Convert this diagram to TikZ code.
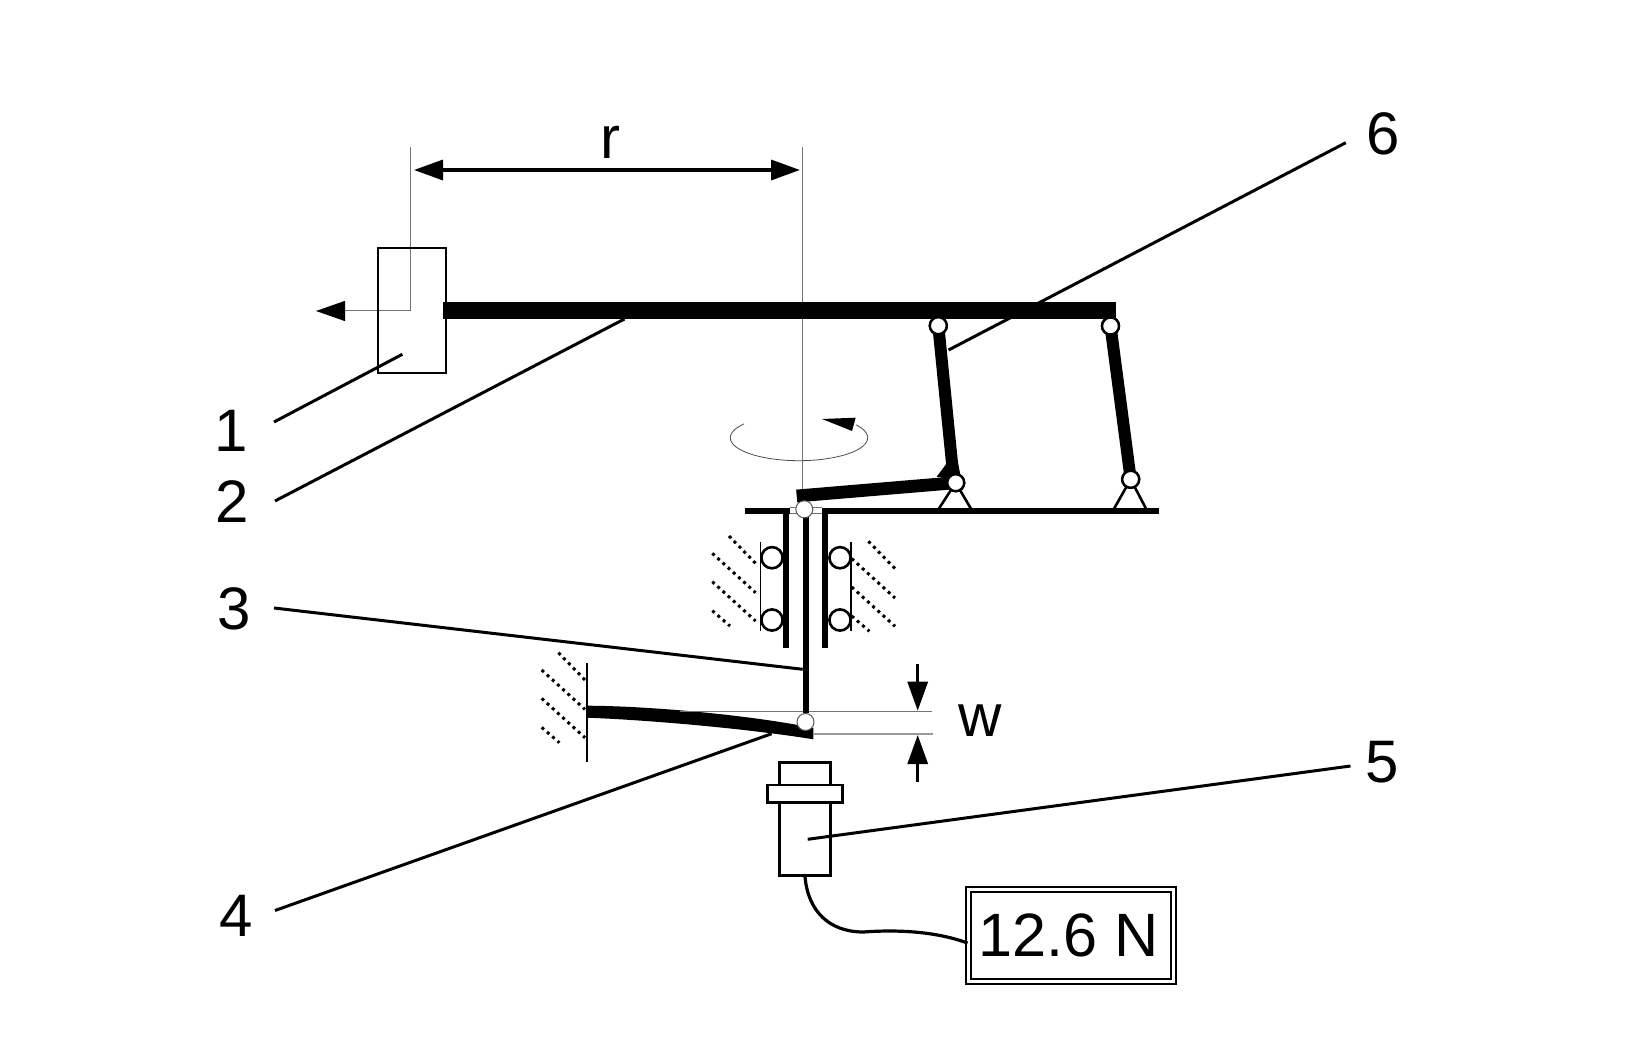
\documentclass[tikz,border=0pt]{standalone}
\usepackage{fontspec}
\setmainfont{Liberation Sans}
\usetikzlibrary{arrows.meta}

\begin{document}
\begin{tikzpicture}[
  x=0.5pt,
  y=-0.5pt,
  thinline/.style={draw=black!55, line width=0.5pt},
  outline/.style={draw, line width=1.3pt},
  leader/.style={draw, line width=1.5pt},
  linkbar/.style={draw, line width=6pt},
  hatchline/.style={draw, line width=1.5pt, dash pattern=on 1.5pt off 2pt},
  hinge/.style={
    draw,
    circle,
    fill=white,
    minimum size=8.5pt,
    inner sep=0pt,
    line width=1.2pt
  },
  pivot/.style={
    hinge,
    draw=black!65,
    line width=0.5pt
  },
  roller/.style={
    draw,
    circle,
    minimum size=10.6pt,
    inner sep=0pt,
    line width=1.3pt
  },
  part/.style={
    draw,
    rectangle,
    fill=white,
    inner sep=0pt,
    line width=1.3pt
  },
  callout/.style={font=\fontsize{30}{36}\selectfont, inner sep=0pt},
  bigtip/.style={-{Triangle[length=14.5pt,width=10pt,black]}}
]
\useasboundingbox (0,0) rectangle (1639,1063);

% axes and mass
\draw[thinline] (802.7,147) -- (802.7,492);
\coordinate (massaxis) at (410.8,147);
\coordinate (masstip) at (316,311);
\draw[thinline, bigtip] (massaxis) |- (masstip);
\node[part, fill=none, minimum width=34pt, minimum height=62.5pt] (mass) at (412,310.5) {};

% radius
\coordinate (radleft) at (414,170);
\coordinate (radright) at (800,170);
\draw[leader, line width=1.7pt, {Triangle[length=14.5pt,width=10pt]}-{Triangle[length=14.5pt,width=10pt]}] (radleft) -- (radright);
\node[callout, anchor=base] (radlabel) at (610,159) {r};

% arm and base plate
\fill (443,302) rectangle (1116,319);
\draw[line width=3pt] (745,510.7) -- (790,510.7);
\draw[line width=3pt] (822,510.7) -- (1159,510.7);
\draw[thinline] (790,507.7) -- (822,507.7);
\draw[thinline] (790,513.7) -- (822,513.7);

% hinges
\node[hinge] (hingeTL) at (938.3,325.7) {};
\node[hinge] (hingeTR) at (1110.5,326) {};
\node[hinge] (hingeBL) at (955.7,482.7) {};
\node[hinge] (hingeBR) at (1130.7,479.3) {};
\coordinate (knee) at (952,463);
\coordinate (armend) at (796.7,496);
\coordinate (footA) at (938,510);
\coordinate (footB) at (971.7,510);
\coordinate (footC) at (1113.3,510);
\coordinate (footD) at (1146.7,510);

\draw[linkbar] (hingeTL.center) -- (knee) -- (hingeBL.center);
\draw[linkbar] (hingeTR.center) -- (hingeBR.center);
\fill (936.7,476.7) -- (946.7,463.3) -- (955,480) -- cycle;
\draw[line width=6.4pt] (armend) -- (hingeBL.center);
\draw[outline] (footA) -- (hingeBL.center) -- (footB);
\draw[outline] (footC) -- (hingeBR.center) -- (footD);
\foreach \h in {TL,TR,BL,BR}{
  \node[hinge] at (hinge\h) {};
}

% bearing
\foreach \sx in {786.3,825.3}{
  \draw[line width=3pt] (\sx,510) -- (\sx,648.3);
}
\foreach \rx in {772,840}{
  \node[roller] (rollerA\rx) at (\rx,557.7) {};
  \node[roller] (rollerB\rx) at (\rx,620) {};
}
\draw[line width=0.8pt] (760.3,541.7) -- (760.3,630.7);
\draw[line width=0.9pt] (851.3,541.7) -- (851.3,630.7);

% hatching of the fixed supports
\foreach \ox/\oy in {541.7/652.7,712.3/536,851.7/541.3}{
  \foreach \ax/\ay/\bx/\by in {16.7/0/43.3/27.3,0/17.3/43.3/56.7,0/45.7/43.3/85,0/74.7/17.7/90}{
    \draw[hatchline] (\ox+\ax,\oy+\ay) -- (\ox+\bx,\oy+\by);
  }
}

% leaf spring
\draw[line width=0.9pt] (586.7,663.3) -- (586.7,762.3);
\fill (586.7,705.7) .. controls (650,706) and (750,715) .. (813.3,728)
  -- (813.3,739.3) .. controls (750,729) and (650,720) .. (586.7,717.7) -- cycle;

% deflection
\draw[thinline] (680,711.3) -- (931.7,711.3);
\draw[thinline, draw=black!40, line width=0.7pt] (813.3,734) -- (932.7,734);
\coordinate (defltop) at (917.7,664);
\coordinate (defltoptip) at (917.7,710.7);
\coordinate (deflbot) at (917.7,781.7);
\coordinate (deflbottip) at (917.7,735);
\draw[leader, bigtip] (defltop) -- (defltoptip);
\draw[leader, bigtip] (deflbot) -- (deflbottip);
\node[callout, anchor=base] (deflabel) at (980,736) {w};

% shaft
\node[pivot] (hingeW) at (805.5,722) {};
\coordinate (shafttop) at (805.5,515);
\draw[line width=3pt] (shafttop) -- (hingeW);
\node[pivot] (hingeC) at (804.3,509.3) {};

% sense of rotation
\draw[thinline, draw=black!70, line width=0.4pt] plot[domain=217:-34, samples=80, smooth] ({799+68.7*cos(\x)},{437.7+23*sin(\x)});
\fill (822,419) -- (855.7,417.7) -- (852,431) -- cycle;

% sensor
\node[part, minimum width=25.7pt, minimum height=11.3pt] (sensorhead) at (805,773.6) {};
\node[part, minimum width=37.3pt, minimum height=8.6pt] (sensorflange) at (805,793.6) {};
\node[part, minimum width=25.7pt, minimum height=36.5pt] (sensorbody) at (805,838.8) {};

% display
\node[callout, draw, line width=1pt, double, double distance=1.65pt, minimum width=102.5pt, minimum height=46pt, font=\fontsize{30.6}{36}\selectfont] (display) at (1071,935.5) {\hspace*{-2pt}12.6 N};
\draw[line width=1.6pt] (sensorbody.south) .. controls (808,912) and (830,932) .. (863.3,932)
  .. controls (905,929) and (940,933) .. ([yshift=-3.75pt]display.west);

% part numbers
\node[callout] (num1) at (231,431) {1};
\node[callout] (num2) at (232,502) {2};
\node[callout] (num3) at (234,609) {3};
\node[callout] (num4) at (236,916) {4};
\node[callout] (num5) at (1382,762) {5};
\node[callout] (num6) at (1383,134) {6};

\coordinate (lead1a) at (274,422);
\coordinate (lead1b) at (402.4,354.3);
\coordinate (lead2a) at (275,501);
\coordinate (lead2b) at (624.4,319);
\coordinate (lead3a) at (274,608);
\coordinate (lead3b) at (802.7,669.3);
\coordinate (lead4a) at (275,910.5);
\coordinate (lead4b) at (771.7,733.7);
\coordinate (lead5a) at (1350.5,766);
\coordinate (lead5b) at (807.7,839.3);
\coordinate (lead6a) at (1345.8,142.7);
\coordinate (lead6b) at (948.6,350);
\foreach \n in {1,...,6}{
  \draw[leader] (lead\n a) -- (lead\n b);
}
\end{tikzpicture}
\end{document}
